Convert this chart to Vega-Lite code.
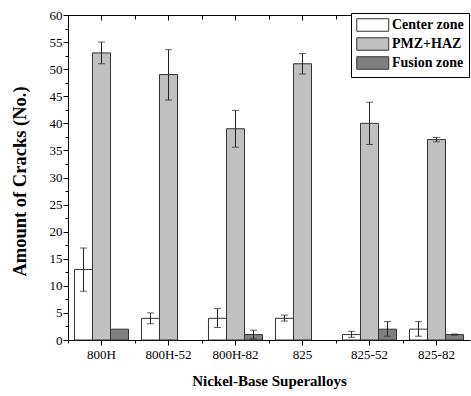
{
  "$schema": "https://vega.github.io/schema/vega-lite/v6.json",
  "autosize": "none",
  "padding": {"left": 68, "top": 15, "right": 1, "bottom": 56},
  "width": 402,
  "height": 325,
  "config": {
    "view": {"stroke": null},
    "font": "Liberation Serif",
    "axis": {"labelFont": "Liberation Serif", "titleFont": "Liberation Serif", "domainColor": "#000", "tickColor": "#000", "labelColor": "#000", "titleColor": "#000", "grid": false},
    "legend": {"labelFont": "Liberation Serif"}
  },
  "data": {"values": [
    {"alloy": "800H", "zone": "Center zone", "value": 13, "lo": 9, "hi": 17},
    {"alloy": "800H", "zone": "PMZ+HAZ", "value": 53, "lo": 51, "hi": 55},
    {"alloy": "800H", "zone": "Fusion zone", "value": 2, "lo": null, "hi": null},
    {"alloy": "800H-52", "zone": "Center zone", "value": 4, "lo": 3, "hi": 5},
    {"alloy": "800H-52", "zone": "PMZ+HAZ", "value": 49, "lo": 44.3, "hi": 53.6},
    {"alloy": "800H-82", "zone": "Center zone", "value": 4, "lo": 2.3, "hi": 5.8},
    {"alloy": "800H-82", "zone": "PMZ+HAZ", "value": 39, "lo": 35.6, "hi": 42.4},
    {"alloy": "800H-82", "zone": "Fusion zone", "value": 1, "lo": 0.2, "hi": 1.8},
    {"alloy": "825", "zone": "Center zone", "value": 4, "lo": 3.5, "hi": 4.6},
    {"alloy": "825", "zone": "PMZ+HAZ", "value": 51, "lo": 49.1, "hi": 52.9},
    {"alloy": "825-52", "zone": "Center zone", "value": 1, "lo": 0.5, "hi": 1.6},
    {"alloy": "825-52", "zone": "PMZ+HAZ", "value": 40, "lo": 36.1, "hi": 43.9},
    {"alloy": "825-52", "zone": "Fusion zone", "value": 2, "lo": 0.7, "hi": 3.4},
    {"alloy": "825-82", "zone": "Center zone", "value": 2, "lo": 0.7, "hi": 3.4},
    {"alloy": "825-82", "zone": "PMZ+HAZ", "value": 37, "lo": 36.6, "hi": 37.4},
    {"alloy": "825-82", "zone": "Fusion zone", "value": 1, "lo": 0.9, "hi": 1.1}
  ]},
  "encoding": {
    "x": {"field": "alloy", "type": "nominal", "sort": ["800H", "800H-52", "800H-82", "825", "825-52", "825-82"], "scale": {"domain": ["800H", "800H-52", "800H-82", "825", "825-52", "825-82"], "paddingInner": 0, "paddingOuter": 0}},
    "xOffset": {"field": "zone", "type": "nominal", "scale": {"domain": ["Center zone", "PMZ+HAZ", "Fusion zone"], "paddingInner": 0, "paddingOuter": 0.36}}
  },
  "layer": [
    {
      "mark": {"type": "bar", "stroke": "#333", "strokeWidth": 1},
      "encoding": {
        "x": {"field": "alloy", "type": "nominal", "axis": {"orient": "bottom", "title": "Nickel-Base Superalloys", "titleFontSize": 15, "titleFontWeight": "bold", "titlePadding": 12, "labelFontSize": 13, "labelAngle": 0, "labelPadding": 3, "tickSize": 5, "bandPosition": 0.5}},
        "y": {"field": "value", "type": "quantitative", "scale": {"domain": [0, 60], "nice": false}, "axis": {"orient": "left", "values": [0, 5, 10, 15, 20, 25, 30, 35, 40, 45, 50, 55, 60], "title": "Amount of Cracks (No.)", "titleFontSize": 18.5, "titleFontWeight": "bold", "titlePadding": 20, "titleY": 166, "labelFontSize": 13, "labelPadding": 1, "tickSize": 5}},
        "color": {"field": "zone", "type": "nominal", "scale": {"domain": ["Center zone", "PMZ+HAZ", "Fusion zone"], "range": ["#ffffff", "#c0c0c0", "#808080"]},
          "legend": {"title": null, "orient": "none", "legendX": 283, "legendY": -2, "fillColor": "#ffffff", "strokeColor": "#000", "padding": 5, "rowPadding": 1, "symbolType": "M-1,-1H4.12V1H-1Z", "symbolSize": 156, "symbolStrokeColor": "#333", "symbolStrokeWidth": 1, "symbolOpacity": 1, "labelOffset": 22, "labelFontSize": 14, "labelFontWeight": "bold", "labelColor": "#000"}}
      }
    },
    {
      "transform": [{"filter": "datum.lo != null"}],
      "mark": {"type": "rule", "color": "#222", "strokeWidth": 1},
      "encoding": {
        "x": {"field": "alloy", "type": "nominal", "axis": null},
        "y": {"field": "lo", "type": "quantitative", "axis": null},
        "y2": {"field": "hi"}
      }
    },
    {
      "transform": [{"filter": "datum.lo != null"}],
      "mark": {"type": "tick", "color": "#222", "thickness": 1, "size": 7},
      "encoding": {
        "x": {"field": "alloy", "type": "nominal", "axis": null},
        "y": {"field": "lo", "type": "quantitative", "axis": null}
      }
    },
    {
      "transform": [{"filter": "datum.lo != null"}],
      "mark": {"type": "tick", "color": "#222", "thickness": 1, "size": 7},
      "encoding": {
        "x": {"field": "alloy", "type": "nominal", "axis": null},
        "y": {"field": "hi", "type": "quantitative", "axis": null}
      }
    },
    {
      "mark": {"type": "rule", "opacity": 0},
      "encoding": {
        "x": {"field": "alloy", "type": "nominal", "axis": {"orient": "bottom", "labels": false, "title": null, "domain": false, "tickSize": 3, "bandPosition": 0}},
        "y": {"field": "value", "type": "quantitative", "axis": {"orient": "left", "values": [2.5, 7.5, 12.5, 17.5, 22.5, 27.5, 32.5, 37.5, 42.5, 47.5, 52.5, 57.5], "labels": false, "title": null, "domain": false, "tickSize": 3}}
      }
    },
    {
      "mark": {"type": "rule", "opacity": 0},
      "encoding": {
        "x": {"field": "alloy", "type": "nominal", "axis": {"orient": "top", "labels": false, "title": null, "domain": true, "tickSize": -5, "bandPosition": 0.5}},
        "y": {"field": "value", "type": "quantitative", "axis": null}
      }
    },
    {
      "mark": {"type": "rule", "opacity": 0},
      "encoding": {
        "x": {"field": "alloy", "type": "nominal", "axis": {"orient": "top", "labels": false, "title": null, "domain": false, "tickSize": -4, "bandPosition": 0}},
        "y": {"field": "value", "type": "quantitative", "axis": null}
      }
    }
  ],
  "resolve": {"axis": {"x": "independent", "y": "independent"}}
}
